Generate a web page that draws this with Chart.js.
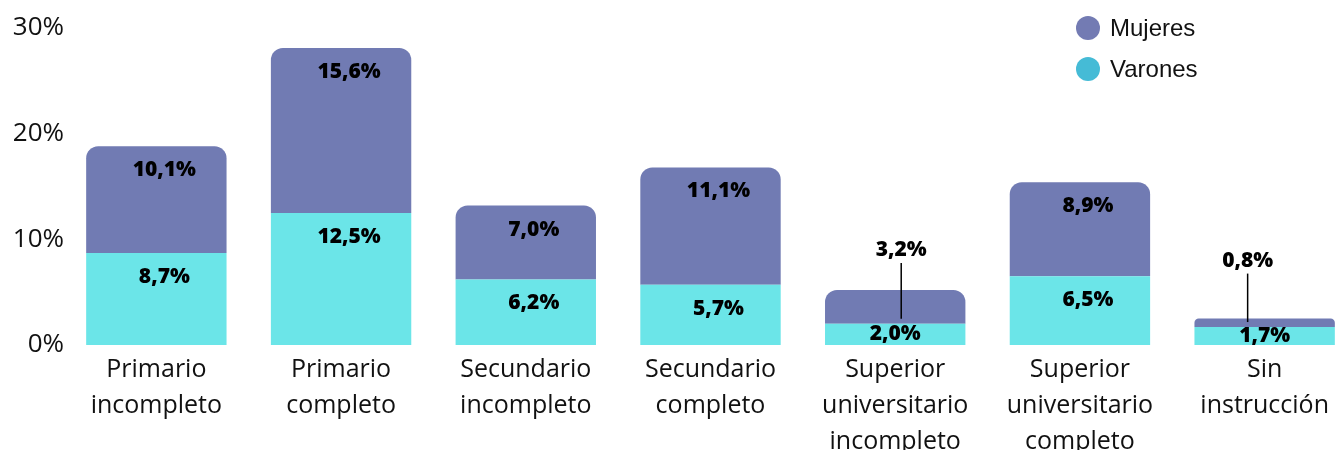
<!DOCTYPE html>
<html>
<head>
<meta charset="utf-8">
<script src="https://cdn.jsdelivr.net/npm/chart.js@4.4.0/dist/chart.umd.min.js"></script>
<style>
  html, body { margin: 0; padding: 0; background: #fff; overflow: hidden; }
  #wrap { width: 1360px; height: 450px; position: relative; }
</style>
</head>
<body>
<div id="wrap"><canvas id="myChart"></canvas></div>
<script>
// categories and values
const categories = [
  ['Primario', 'incompleto'],
  ['Primario', 'completo'],
  ['Secundario', 'incompleto'],
  ['Secundario', 'completo'],
  ['Superior', 'universitario', 'incompleto'],
  ['Superior', 'universitario', 'completo'],
  ['Sin', 'instrucción']
];
const varones = [8.7, 12.5, 6.2, 5.7, 2.0, 6.5, 1.7];
const mujeres = [10.1, 15.6, 7.0, 11.1, 3.2, 8.9, 0.8];
const yTicks = [0, 10, 20, 30];

const FONT = "'Open Sans', sans-serif";

function fmt(v) {
  return v.toFixed(1).replace('.', ',') + '%';
}

// value labels: inside near the top of each segment, callout above for small ones
const valueLabels = {
  id: 'valueLabels',
  afterDatasetsDraw(chart) {
    const ctx = chart.ctx;
    ctx.save();
    ctx.font = "800 21px " + FONT;
    ctx.fillStyle = '#000';
    ctx.textAlign = 'center';
    ctx.textBaseline = 'middle';
    chart.data.datasets.forEach((ds, di) => {
      const meta = chart.getDatasetMeta(di);
      meta.data.forEach((bar, i) => {
        const v = ds.data[i];
        const h = bar.base - bar.y;
        if (h >= 40) {
          ctx.fillText(fmt(v), bar.x + 8, bar.y + 24);
        } else if (ds.label === 'Varones') {
          ctx.fillText(fmt(v), bar.x, (bar.y + bar.base) / 2);
        } else {
          // small Mujeres segment: label above with a leader line
          const shift = i === categories.length - 1 ? -17 : 6;
          const lx = bar.x + shift;
          const ly = bar.y - 40 - (h < 15 ? 18 : 0);
          ctx.fillText(fmt(v), lx, ly);
          ctx.beginPath();
          ctx.strokeStyle = '#000';
          ctx.lineWidth = 1.5;
          ctx.moveTo(lx, ly + 13);
          ctx.lineTo(lx, bar.base - 5);
          ctx.stroke();
        }
      });
    });
    ctx.restore();
  }
};

// legend drawn in the top right corner
const cornerLegend = {
  id: 'cornerLegend',
  afterDraw(chart) {
    const ctx = chart.ctx;
    const items = [
      { text: 'Mujeres', color: '#737BB3' },
      { text: 'Varones', color: '#45BBD6' }
    ];
    ctx.save();
    ctx.font = "24px 'Liberation Sans', Arial, sans-serif";
    ctx.textBaseline = 'middle';
    ctx.textAlign = 'left';
    items.forEach((it, k) => {
      const y = 28 + k * 41;
      ctx.beginPath();
      ctx.fillStyle = it.color;
      ctx.arc(1088, y, 12, 0, Math.PI * 2);
      ctx.fill();
      ctx.fillStyle = '#111';
      ctx.fillText(it.text, 1110, y + 1);
    });
    ctx.restore();
  }
};

const ctx = document.getElementById('myChart').getContext('2d');
const myChart = new Chart(ctx, {
  type: 'bar',
  data: {
    labels: categories,
    datasets: [
      {
        label: 'Varones',
        data: varones,
        backgroundColor: '#6BE5E8',
        borderRadius: 0,
        barPercentage: 0.76,
        categoryPercentage: 1.0
      },
      {
        label: 'Mujeres',
        data: mujeres,
        backgroundColor: '#717BB3',
        borderRadius: { topLeft: 12, topRight: 12, bottomLeft: 0, bottomRight: 0 },
        borderSkipped: false,
        barPercentage: 0.76,
        categoryPercentage: 1.0
      }
    ]
  },
  options: {
    responsive: true,
    maintainAspectRatio: false,
    animation: false,
    layout: { padding: { top: 28, right: 3, left: 0, bottom: 0 } },
    plugins: {
      legend: { display: false },
      tooltip: { enabled: false }
    },
    scales: {
      x: {
        stacked: true,
        grid: { display: false, drawTicks: false },
        border: { display: false },
        ticks: {
          color: '#111',
          font: { family: FONT, size: 25, lineHeight: 1.44 },
          padding: 7,
          maxRotation: 0,
          autoSkip: false
        },
        afterFit(scale) { scale.height = 105; }
      },
      y: {
        stacked: true,
        min: yTicks[0],
        max: yTicks[yTicks.length - 1],
        grid: { display: false, drawTicks: false },
        border: { display: false },
        afterBuildTicks(scale) { scale.ticks = yTicks.map(v => ({ value: v })); },
        ticks: {
          color: '#111',
          font: { family: FONT, size: 26 },
          padding: 0,
          callback: v => v + '%'
        },
        afterFit(scale) { scale.width = 64; }
      }
    }
  },
  plugins: [valueLabels, cornerLegend]
});
</script>
</body>
</html>
